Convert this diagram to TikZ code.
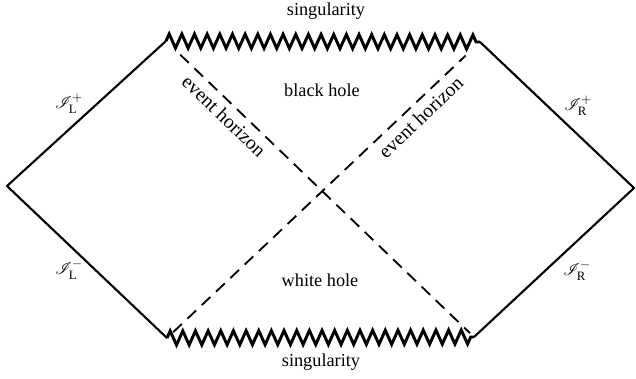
\documentclass[tikz,border=0pt]{standalone}
\usepackage{amsmath, amssymb}
\usepackage{mathrsfs}
\usepackage{fontspec}
\setmainfont{Liberation Serif}
\usepackage{tikz}
\usetikzlibrary{decorations.pathmorphing, calc}

\begin{document}
\begin{tikzpicture}[x=0.025cm, y=-0.025cm,
    every node/.style={font=\fontsize{13}{15}\selectfont},
    edge/.style={line width=1.5pt, line join=round},
    sing/.style={line width=2.1pt, line join=miter, decorate, decoration={zigzag, segment length=9, amplitude=5}},
    horizon/.style={line width=1.3pt, dash pattern=on 8.5pt off 5.5pt}]
                \useasboundingbox (0,0) rectangle (636,379);
                \coordinate (left) at (7,186);
                \coordinate (right) at (634,188);
                \coordinate (tl) at (166,41);
                \coordinate (tr) at (480,42);
                \coordinate (bl) at (167,338);
                \coordinate (br) at (474,337);
                \draw[edge] (tl) -- (left) -- (bl);
                \draw[edge] (tr) -- (right) -- (br);
                \draw[sing] (tl) -- (tr);
                \draw[sing] (bl) -- (br);
                \draw[horizon, shorten <=14pt, shorten >=4pt] (tl) -- (br) node[pos=0.22, sloped, below=1pt, font=\fontsize{14}{16}\selectfont] (ehl) {event horizon};
                \draw[horizon, shorten <=6pt, shorten >=14pt] (bl) -- (tr) node[pos=0.78, sloped, below=1pt, font=\fontsize{14}{16}\selectfont] (ehr) {event horizon};
                \node (stop) at (326,11) {singularity};
                \node (sbot) at (321,362) {singularity};
                \node (bh) at (322,90) {black hole};
                \node (wh) at (320,280) {white hole};
                \node (lp) at (69,104) {$\mathscr{I}^{+}_{\mathrm{L}}$};
                \node (lm) at (69,270) {$\mathscr{I}^{-}_{\mathrm{L}}$};
                \node (rp) at (578,106) {$\mathscr{I}^{+}_{\mathrm{R}}$};
                \node (rm) at (577,271) {$\mathscr{I}^{-}_{\mathrm{R}}$};
            \end{tikzpicture}
\end{document}
